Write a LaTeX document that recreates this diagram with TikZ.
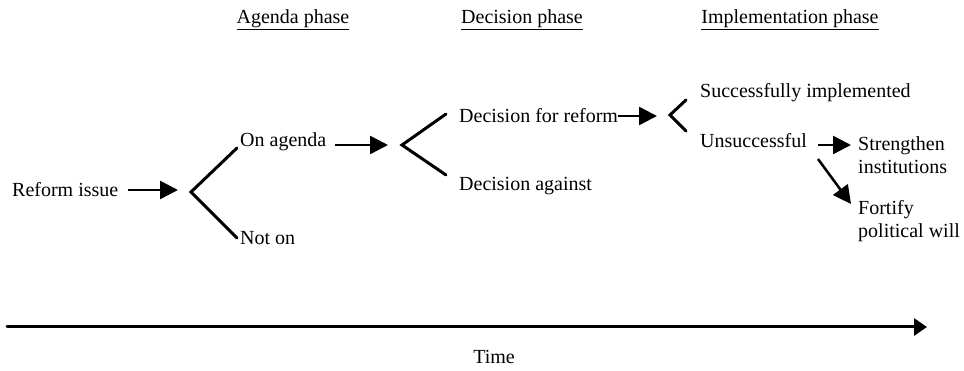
\documentclass[tikz,border=0pt]{standalone}
\usepackage{fontspec}
\setmainfont{Liberation Serif}
\usetikzlibrary{arrows.meta}
\tikzset{
  lbl/.style={inner sep=0pt, anchor=west, font=\fontsize{20}{23}\selectfont, align=left},
  head/.style={inner sep=0pt, font=\fontsize{20}{23}\selectfont},
  flow/.style={line width=2.5pt, -{Triangle[length=18pt,width=18pt]}},
  branch/.style={line width=3pt, line cap=round, line join=miter},
  axis/.style={line width=3pt, line cap=round, -{Triangle[length=13pt,width=17pt]}}
}
\begin{document}
\begin{tikzpicture}[x=1pt,y=-1pt]
\useasboundingbox[fill=white] (0,0) rectangle (964,371);
% headings
\node[head] (hA) at (293,20) {\underline{Agenda phase}};
\node[head] (hD) at (522,20) {\underline{Decision phase}};
\node[head] (hI) at (790,20) {\underline{Implementation phase}};
% nodes
\node[lbl] (reform) at (12,190) {Reform issue};
\node[lbl] (onag) at (240,142) {On agenda};
\node[lbl] (noton) at (240,238) {Not on};
\node[lbl] (decfor) at (459,116) {Decision for reform};
\node[lbl] (decag) at (459,186) {Decision against};
\node[lbl] (succ) at (700,93) {Successfully implemented};
\node[lbl] (unsucc) at (700,141) {Unsuccessful};
\node[lbl] (streng) at (858,155.5) {Strengthen\\institutions};
\node[lbl] (fortify) at (858,221.5) {Fortify\\political will};
\node[head] (time) at (494,357) {Time};
% branch points
\coordinate (v1) at (191,192);
\coordinate (u1) at (237,148);
\coordinate (l1) at (237,238);
\coordinate (t1) at (178,190);
\coordinate (v2) at (402,145);
\coordinate (u2) at (446,114);
\coordinate (l2) at (446,175);
\coordinate (t2) at (388,145);
\coordinate (v3) at (670,115);
\coordinate (u3) at (686,100);
\coordinate (l3) at (686,131);
\coordinate (t3) at (657,116);
\coordinate (s4) at (818,145);
\coordinate (t4) at (851,145);
\coordinate (s5) at (818,159);
\coordinate (t5) at (851,204);
\coordinate (ax0) at (7,327);
\coordinate (ax1) at (927,327);
% arrows
\draw[flow, shorten <=10pt] (reform.east) -- (t1);
\draw[flow, shorten <=9pt] (onag.east |- t2) -- (t2);
\draw[flow] (decfor.east) -- (t3);
\draw[flow] (s4) -- (t4);
\draw[flow] (s5) -- (t5);
% branches
\draw[branch] (u1) -- (v1) -- (l1);
\draw[branch] (u2) -- (v2) -- (l2);
\draw[branch] (u3) -- (v3) -- (l3);
% time axis
\draw[axis] (ax0) -- (ax1);
\end{tikzpicture}
\end{document}
